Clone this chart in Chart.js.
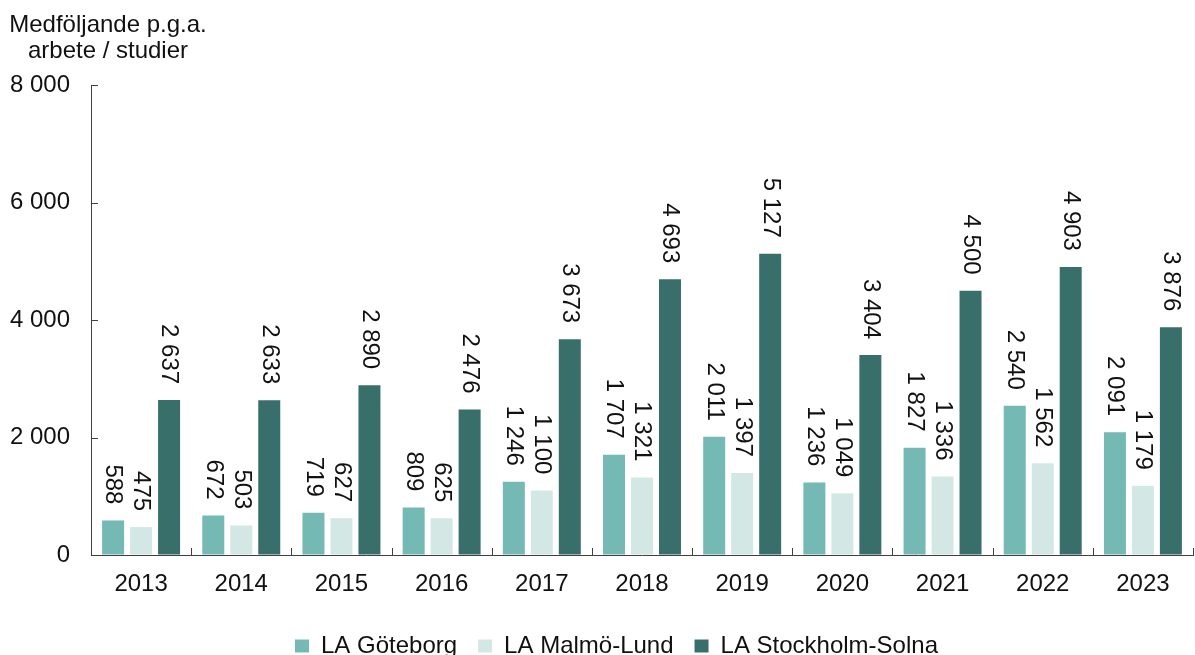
<!DOCTYPE html>
<html><head><meta charset="utf-8">
<script src="https://cdn.jsdelivr.net/npm/chart.js@4/dist/chart.umd.min.js"></script>
<style>html,body{margin:0;padding:0;background:#fff}#wrap{width:1195px;height:655px;position:relative}</style>
</head><body><div id="wrap"><canvas id="c"></canvas></div>
<script>
const years = ['2013','2014','2015','2016','2017','2018','2019','2020','2021','2022','2023'];
const goteborg = [588, 672, 719, 809, 1246, 1707, 2011, 1236, 1827, 2540, 2091];
const malmoLund = [475, 503, 627, 625, 1100, 1321, 1397, 1049, 1336, 1562, 1179];
const stockholmSolna = [2637, 2633, 2890, 2476, 3673, 4693, 5127, 3404, 4500, 4903, 3876];
const seriesNames = ['LA Göteborg', 'LA Malmö-Lund', 'LA Stockholm-Solna'];
const seriesColors = ['#74b9b4', '#d3e8e5', '#386f6b'];
const axisTitleLines = ['Medföljande p.g.a.', 'arbete / studier'];
const yMax = 8000, yStep = 2000;

const FONT = "'Liberation Sans', Arial, sans-serif";
const AXIS = '#404040';
const fmt = v => String(v).replace(/\B(?=(\d{3})+(?!\d))/g, ' ');

const labelPlugin = {
  id: 'barLabels',
  afterDatasetsDraw(chart) {
    const ctx = chart.ctx;
    ctx.save();
    ctx.fillStyle = '#111';
    ctx.font = '24px ' + FONT;
    chart.data.datasets.forEach((ds, di) => {
      const meta = chart.getDatasetMeta(di);
      meta.data.forEach((el, i) => {
        ctx.save();
        ctx.translate(el.x, el.y - 16);
        ctx.rotate(Math.PI / 2);
        ctx.textAlign = 'right';
        ctx.textBaseline = 'middle';
        ctx.fillText(fmt(ds.data[i]), 0, 0);
        ctx.restore();
      });
    });
    ctx.restore();
  }
};
const innerTicksPlugin = {
  id: 'innerTicks',
  afterDraw(chart) {
    const ctx = chart.ctx, xs = chart.scales.x, ys = chart.scales.y;
    const a = chart.chartArea;
    ctx.save();
    ctx.strokeStyle = AXIS;
    ctx.lineWidth = 1;
    ctx.beginPath();
    const half = (xs.getPixelForValue(1) - xs.getPixelForValue(0)) / 2;
    for (let i = 0; i <= years.length; i++) {
      const px = Math.round(xs.getPixelForValue(i) - half) + 0.5;
      ctx.moveTo(px, a.bottom);
      ctx.lineTo(px, a.bottom - 7);
    }
    ys.ticks.forEach(t => {
      const py = Math.round(ys.getPixelForValue(t.value)) + 0.5;
      ctx.moveTo(a.left, py);
      ctx.lineTo(a.left + 7, py);
    });
    ctx.stroke();
    ctx.restore();
  }
};
const titlePlugin = {
  id: 'yTitle',
  afterDraw(chart) {
    const ctx = chart.ctx;
    ctx.save();
    ctx.fillStyle = '#111';
    ctx.font = '24px ' + FONT;
    ctx.textAlign = 'center';
    ctx.textBaseline = 'alphabetic';
    ctx.fillText(axisTitleLines[0], 108, 32);
    ctx.fillText(axisTitleLines[1], 108, 58);
    ctx.restore();
  }
};
const legendShiftPlugin = {
  id: 'legendShift',
  afterLayout(chart) {
    if (chart.legend) { chart.legend.left += 20; chart.legend.right += 20; }
  }
};

Chart.defaults.font.family = FONT;
Chart.defaults.font.size = 24;
Chart.defaults.color = '#111';

new Chart(document.getElementById('c'), {
  type: 'bar',
  data: {
    labels: years,
    datasets: [
      { label: seriesNames[0], data: goteborg, backgroundColor: seriesColors[0] },
      { label: seriesNames[1], data: malmoLund, backgroundColor: seriesColors[1] },
      { label: seriesNames[2], data: stockholmSolna, backgroundColor: seriesColors[2] }
    ]
  },
  options: {
    responsive: true,
    maintainAspectRatio: false,
    animation: false,
    devicePixelRatio: 1,
    categoryPercentage: 0.838,
    barPercentage: 0.786,
    layout: { padding: { top: 85, left: 0, right: 2, bottom: -13 } },
    plugins: {
      legend: {
        position: 'bottom',
        labels: { boxWidth: 14, boxHeight: 13, padding: 21, font: { size: 24 }, color: '#111' }
      },
      tooltip: { enabled: false }
    },
    scales: {
      x: {
        grid: { drawOnChartArea: false, drawTicks: true, tickLength: -7, tickColor: 'rgba(0,0,0,0)', color: AXIS, offset: true },
        border: { display: true, color: AXIS, width: 1 },
        ticks: { padding: 22, font: { size: 24 }, color: '#111', maxRotation: 0 },
        afterFit(s) { s.height = 58; }
      },
      y: {
        min: 0, max: yMax,
        grid: { drawOnChartArea: false, drawTicks: true, tickLength: -7, tickColor: 'rgba(0,0,0,0)', color: AXIS },
        border: { display: true, color: AXIS, width: 1 },
        ticks: { stepSize: yStep, padding: 28, font: { size: 24 }, color: '#111', callback: v => fmt(v) },
        afterFit(s) { s.width = 91; }
      }
    }
  },
  plugins: [labelPlugin, innerTicksPlugin, titlePlugin, legendShiftPlugin]
});
</script></body></html>
